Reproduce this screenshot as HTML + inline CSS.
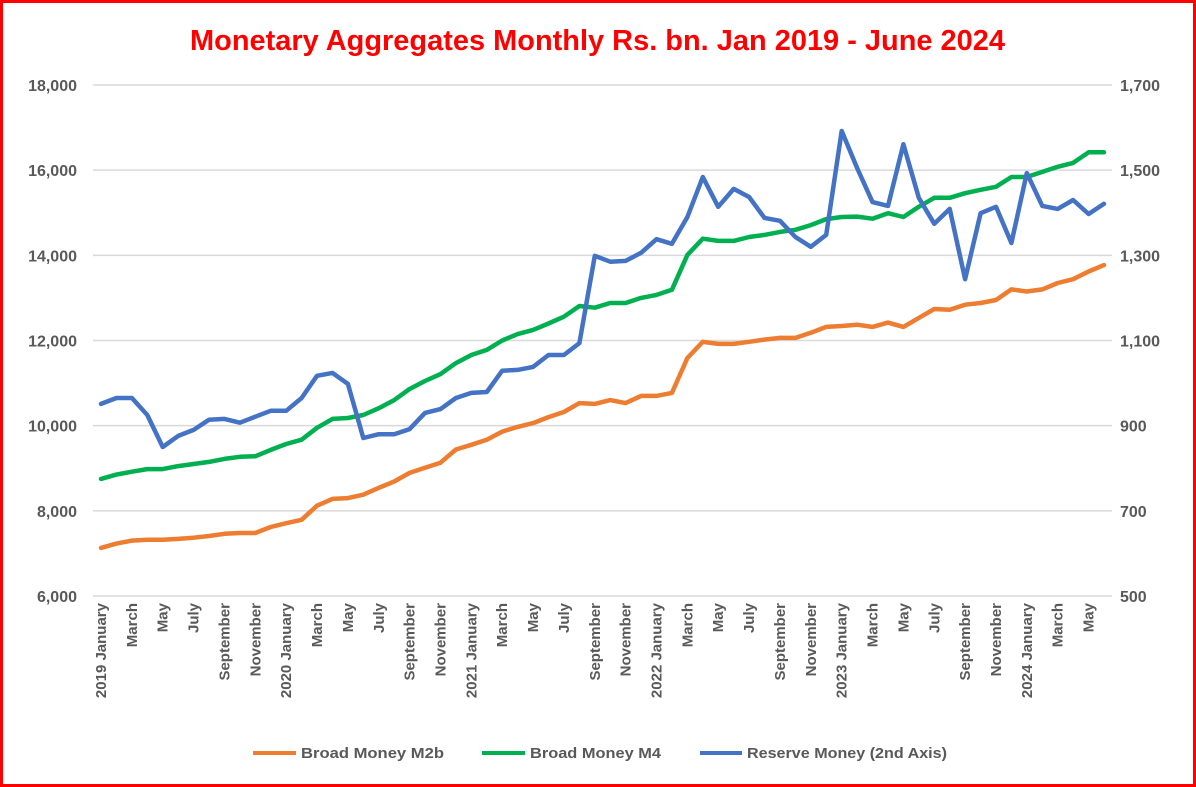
<!DOCTYPE html>
<html><head><meta charset="utf-8"><style>
html,body{margin:0;padding:0;background:#fff;}
svg{display:block;font-family:"Liberation Sans",sans-serif;}
</style></head><body>
<svg id="chart" width="1196" height="787" viewBox="0 0 1196 787" xmlns="http://www.w3.org/2000/svg">
<rect x="1.5" y="1.5" width="1193" height="784" fill="#fff" stroke="#ff0000" stroke-width="3"/>
<text x="190" y="50" textLength="815" lengthAdjust="spacingAndGlyphs" font-size="29" font-weight="bold" fill="#ff0000">Monetary Aggregates Monthly Rs. bn. Jan 2019 - June 2024</text>
<g id="grid"></g><g id="axes"></g><g id="series"></g>
<g font-size="15" font-weight="bold" fill="#595959">
<line x1="253" y1="753" x2="296" y2="753" stroke="#ed7d31" stroke-width="4"/>
<text x="301" y="758" textLength="143" lengthAdjust="spacingAndGlyphs">Broad Money M2b</text>
<line x1="482" y1="753" x2="525" y2="753" stroke="#00b050" stroke-width="4"/>
<text x="530" y="758" textLength="131" lengthAdjust="spacingAndGlyphs">Broad Money M4</text>
<line x1="700" y1="753" x2="742" y2="753" stroke="#4472c4" stroke-width="4"/>
<text x="747" y="758" textLength="200" lengthAdjust="spacingAndGlyphs">Reserve Money (2nd Axis)</text>
</g>
</svg>
<script>
const months=["January","February","March","April","May","June","July","August","September","October","November","December"];
const leftTicks=[6000,8000,10000,12000,14000,16000,18000];
const rightTicks=[500,700,900,1100,1300,1500,1700];
const m2b=[7130,7230,7300,7320,7320,7340,7370,7410,7460,7480,7480,7620,
7710,7790,8120,8280,8300,8380,8540,8690,8890,9010,9130,9440,
9550,9670,9860,9970,10060,10200,10320,10530,10510,10600,10530,10700,
10700,10770,11590,11970,11920,11920,11970,12020,12060,12060,12180,12320,
12340,12370,12320,12420,12320,12530,12740,12720,12840,12880,12950,13200,
13150,13200,13350,13440,13620,13770];
const m4=[8750,8850,8920,8980,8980,9050,9100,9150,9220,9270,9280,9430,
9570,9670,9950,10160,10180,10250,10410,10600,10860,11050,11210,11470,
11660,11780,12000,12150,12250,12400,12560,12810,12770,12880,12880,13000,
13070,13190,14010,14390,14340,14340,14430,14480,14550,14600,14710,14850,
14900,14910,14860,14990,14900,15140,15350,15350,15460,15540,15610,15840,
15840,15960,16080,16170,16420,16420];
const reserve=[951,965,965,925,850,876,890,914,916,907,921,935,
935,965,1017,1024,998,871,880,880,892,930,939,965,
977,979,1029,1031,1038,1066,1066,1094,1299,1285,1287,1306,
1338,1327,1390,1484,1414,1456,1437,1388,1381,1343,1320,1348,
1592,1505,1425,1416,1561,1435,1374,1409,1244,1399,1414,1329,
1493,1416,1409,1430,1397,1421];
const NS="http://www.w3.org/2000/svg";
const x0=101,x1=1104,yTop=85,yBot=596,gL=93,gR=1112;
const n=m2b.length;
const xs=i=>x0+i*(x1-x0)/(n-1);
const yL=v=>yBot-(v-6000)/(18000-6000)*(yBot-yTop);
const yR=v=>yBot-(v-500)/(1700-500)*(yBot-yTop);
function mk(tag,attrs,parent){const e=document.createElementNS(NS,tag);for(const k in attrs)e.setAttribute(k,attrs[k]);parent.appendChild(e);return e;}
const grid=document.getElementById('grid'),axes=document.getElementById('axes'),series=document.getElementById('series');
leftTicks.forEach((t,i)=>{
  const y=yL(t);
  const l=mk('line',{x1:gL,x2:gR,y1:y,y2:y,stroke:'#d9d9d9','stroke-width':1.5},grid);
  
  
  const tx=mk('text',{x:77,y:y+6,'text-anchor':'end','font-size':16,'font-weight':'bold',fill:'#595959'},axes);
  tx.textContent=t.toLocaleString('en-US');
  
  
});
rightTicks.forEach(t=>{
  const y=yR(t);
  const tx=mk('text',{x:1120,y:y+6,'text-anchor':'start','font-size':16,'font-weight':'bold',fill:'#595959'},axes);
  tx.textContent=t.toLocaleString('en-US');
  
  
});
for(let i=0;i<n;i+=2){
  const m=i%12, yr=2019+Math.floor(i/12);
  const lab=m===0?yr+" "+months[m]:months[m];
  const x=xs(i)+5;
  const tx=mk('text',{x:x,y:603,'text-anchor':'end','font-size':15,'font-weight':'bold',fill:'#595959',transform:`rotate(-90 ${x} 603)`},axes);
  tx.textContent=lab;
  
  
}
function line(data,yf,color,name){
  const d=data.map((v,i)=>(i?'L':'M')+xs(i).toFixed(1)+' '+yf(v).toFixed(1)).join(' ');
  const p=mk('path',{d:d,fill:'none',stroke:color,'stroke-width':4.5,'stroke-linejoin':'round','stroke-linecap':'round'},series);
  
  
}
line(m2b,yL,'#ed7d31','m2b-line');
line(m4,yL,'#00b050','m4-line');
line(reserve,yR,'#4472c4','reserve-money-line');
</script>
</body></html>
